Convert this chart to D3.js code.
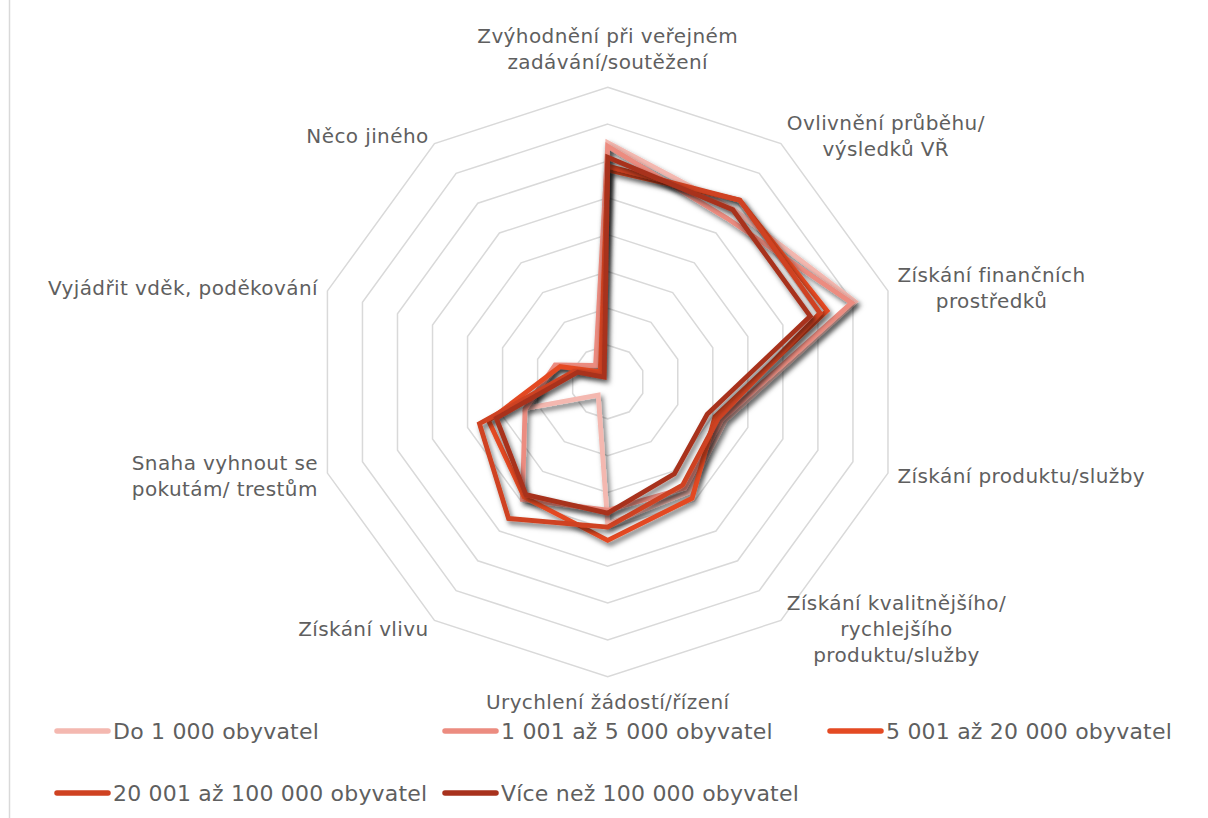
<!DOCTYPE html>
<html>
<head>
<meta charset="utf-8">
<script src="https://cdn.jsdelivr.net/npm/d3@7"></script>
<style>
  body { margin: 0; background: #fff; }
  text { font-family: "DejaVu Sans", "Noto Sans", sans-serif; fill: #5f5f5f; }
</style>
</head>
<body>
<div id="radar"></div>
<script>
// Chart data (share of respondents, %)
var categories = [
  ["Zvýhodnění při veřejném", "zadávání/soutěžení"],
  ["Ovlivnění průběhu/", "výsledků VŘ"],
  ["Získání finančních", "prostředků"],
  ["Získání produktu/služby"],
  ["Získání kvalitnějšího/", "rychlejšího", "produktu/služby"],
  ["Urychlení žádostí/řízení"],
  ["Získání vlivu"],
  ["Snaha vyhnout se", "pokutám/ trestům"],
  ["Vyjádřit vděk, poděkování"],
  ["Něco jiného"]
];

var seriesNames = [
  "Do 1 000 obyvatel",
  "1 001 až 5 000 obyvatel",
  "5 001 až 20 000 obyvatel",
  "20 001 až 100 000 obyvatel",
  "Více než 100 000 obyvatel"
];

var do1000 = [32.5, 29.0, 35.3, 16.8, 18.5, 19.3, 2.2, 11.5, 7.3, 2.5];
var do5000 = [32.0, 27.5, 34.8, 16.3, 17.8, 17.4, 19.7, 11.8, 7.5, 2.8];
var do20000 = [28.8, 30.5, 31.3, 15.3, 19.5, 21.5, 19.3, 17.0, 6.8, 1.7];
var do100000 = [29.3, 30.5, 30.3, 15.8, 17.3, 19.7, 22.9, 18.3, 4.8, 1.5];
var nad100000 = [30.5, 28.9, 28.9, 14.2, 15.4, 17.8, 18.9, 15.9, 4.3, 0.8];

var ringTicks = [5, 10, 15, 20, 25, 30, 35, 40];

var colors = ["#f4b8b0", "#ec8c80", "#e44a23", "#cf4221", "#a8321d"];
var allSeries = [do1000, do5000, do20000, do100000, nad100000];

// Chart size
var svgWidth = 1208;
var svgHeight = 818;
var cx = 607.7;
var cy = 382;
var radius = 294.7;

var svg = d3.select("#radar")
  .append("svg")
  .attr("width", svgWidth)
  .attr("height", svgHeight);

// drop shadow for series lines
var filter = svg.append("defs").append("filter")
  .attr("id", "shadow")
  .attr("x", "-20%").attr("y", "-20%")
  .attr("width", "140%").attr("height", "140%");
filter.append("feDropShadow")
  .attr("dx", 2.5)
  .attr("dy", 3.5)
  .attr("stdDeviation", 2.5)
  .attr("flood-color", "#000")
  .attr("flood-opacity", 0.55);

// left border line
svg.append("line")
  .attr("x1", 9.5).attr("x2", 9.5)
  .attr("y1", 0).attr("y2", svgHeight)
  .attr("stroke", "#d9d9d9")
  .attr("stroke-width", 1.5);

var chartGroup = svg.append("g")
  .attr("transform", `translate(${cx}, ${cy})`);

var rScale = d3.scaleLinear()
  .domain([0, 40])
  .range([0, radius]);

var n = categories.length;
var angle = i => i * 2 * Math.PI / n;

var radarLine = d3.lineRadial()
  .angle((d, i) => angle(i))
  .radius(d => rScale(d))
  .curve(d3.curveLinearClosed);

// grid rings
chartGroup.selectAll("path.ring")
  .data(ringTicks)
  .enter()
  .append("path")
  .attr("class", "ring")
  .attr("d", t => radarLine(d3.range(n).map(() => t)))
  .attr("fill", "none")
  .attr("stroke", "#d9d9d9")
  .attr("stroke-width", 1.5);

// series
chartGroup.selectAll("path.series")
  .data(allSeries)
  .enter()
  .append("path")
  .attr("class", "series")
  .attr("d", d => radarLine(d))
  .attr("fill", "none")
  .attr("stroke", (d, i) => colors[i])
  .attr("stroke-width", 4.8)
  .attr("stroke-linejoin", "miter")
  .attr("filter", "url(#shadow)");

// category labels
var fontSize = 20;
var lineH = 26;
categories.forEach(function (lines, i) {
  var a = angle(i);
  var dx = Math.sin(a), dy = -Math.cos(a);
  var ax = (radius + 10) * dx;
  var ay = (radius + 10) * dy;
  var g = chartGroup.append("g");
  var texts = lines.map(function (s, j) {
    return g.append("text")
      .attr("font-size", fontSize)
      .attr("letter-spacing", 0.4)
      .attr("text-anchor", "middle")
      .text(s);
  });
  var w = d3.max(texts, t => t.node().getComputedTextLength());
  var h = lines.length * lineH;
  var x, top;
  if (Math.abs(dx) < 0.01) {
    x = ax;
    top = dy < 0 ? ay - h - 2 : ay + 2;
  } else {
    x = dx > 0 ? ax + w / 2 : ax - w / 2;
    top = ay - h / 2;
  }
  texts.forEach(function (t, j) {
    t.attr("x", x).attr("y", top + j * lineH + lineH / 2).attr("dy", "0.35em");
  });
});

// legend
var legendPos = [
  [54, 731], [442, 731], [827, 731],
  [54, 793], [442, 793]
];
var legend = svg.append("g");
seriesNames.forEach(function (name, i) {
  var p = legendPos[i];
  legend.append("line")
    .attr("x1", p[0] + 3).attr("x2", p[0] + 54)
    .attr("y1", p[1]).attr("y2", p[1])
    .attr("stroke", colors[i])
    .attr("stroke-width", 5.5)
    .attr("stroke-linecap", "round");
  legend.append("text")
    .attr("x", p[0] + 59)
    .attr("y", p[1])
    .attr("dy", "0.35em")
    .attr("font-size", 22)
    .attr("letter-spacing", 0.2)
    .text(name);
});
</script>
</body>
</html>
